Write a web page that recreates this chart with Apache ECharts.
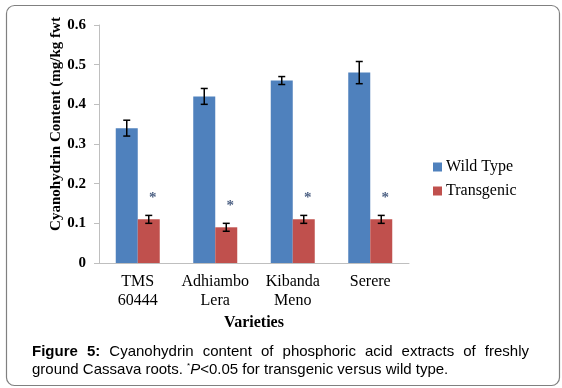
<!DOCTYPE html>
<html>
<head>
<meta charset="utf-8">
<script src="https://cdn.jsdelivr.net/npm/echarts@6/dist/echarts.min.js"></script>
<style>
  html, body { margin: 0; padding: 0; background: #fff; }
  #chart { width: 562px; height: 388px; }
</style>
</head>
<body>
<div id="chart"></div>
<script>
var categories = ['TMS\n60444', 'Adhiambo\nLera', 'Kibanda\nMeno', 'Serere'];
var wildType = [0.34, 0.42, 0.46, 0.48];
var wildErr = [0.02, 0.02, 0.01, 0.028];
var transgenic = [0.11, 0.09, 0.11, 0.11];
var transErr = [0.01, 0.01, 0.01, 0.01];
// where the significance asterisks sit (value axis)
var starPos = [0.17, 0.15, 0.17, 0.17];
var yTitle = 'Cyanohydrin Content (mg/kg fwt';

var serif = 'Liberation Serif';
var sans = 'Liberation Sans';
var barW = 22;

var myChart = echarts.init(document.getElementById('chart'));

// justified first caption line: measure words and spread them
var ctx = document.createElement('canvas').getContext('2d');
var line1 = [['Figure', true], ['5:', true], ['Cyanohydrin'], ['content'], ['of'],
    ['phosphoric'], ['acid'], ['extracts'], ['of'], ['freshly']];
var capLeft = 32, capRight = 529, capSize = 15;
var widths = line1.map(function (w) {
    ctx.font = (w[1] ? 'bold ' : '') + capSize + 'px ' + sans;
    return ctx.measureText(w[0]).width;
});
var sum = widths.reduce(function (a, b) { return a + b; }, 0);
var gap = (capRight - capLeft - sum) / (line1.length - 1);
var captionEls = [];
var cx = capLeft;
line1.forEach(function (w, i) {
    captionEls.push({
        type: 'text', left: cx, top: 344,
        style: {
            text: w[0], font: (w[1] ? 'bold ' : '') + capSize + 'px ' + sans,
            fill: '#000'
        }
    });
    cx += widths[i] + gap;
});
captionEls.push({
    type: 'text', left: capLeft, top: 362,
    style: {
        text: '{n|ground Cassava roots. }{s|*}{i|P}{n|<0.05 for transgenic versus wild type.}',
        rich: {
            n: { fontFamily: sans, fontSize: capSize, fill: '#000' },
            s: { fontFamily: sans, fontSize: 8, fill: '#000', verticalAlign: 'top', padding: [0, 0, 6, 0] },
            i: { fontFamily: sans, fontSize: capSize, fontStyle: 'italic', fill: '#000' }
        }
    }
});

function errorBar(offset) {
    return function (params, api) {
        var c = api.coord([api.value(0), api.value(1)]);
        var hi = api.coord([api.value(0), api.value(1) + api.value(2)]);
        var lo = api.coord([api.value(0), api.value(1) - api.value(2)]);
        var x = c[0] + offset;
        var st = { stroke: '#000', lineWidth: 1.5 };
        return {
            type: 'group',
            children: [
                { type: 'line', shape: { x1: x, y1: hi[1], x2: x, y2: lo[1] }, style: st },
                { type: 'line', shape: { x1: x - 3.5, y1: hi[1], x2: x + 3.5, y2: hi[1] }, style: st },
                { type: 'line', shape: { x1: x - 3.5, y1: lo[1], x2: x + 3.5, y2: lo[1] }, style: st }
            ]
        };
    };
}

var option = {
    animation: false,
    graphic: [{
        type: 'rect', left: 4, top: 3, z: -10,
        shape: { width: 553, height: 380, r: 8 },
        style: { fill: 'none', stroke: '#808080', lineWidth: 1.2 }
    }, {
        type: 'text', x: 56, y: 124, rotation: Math.PI / 2,
        style: {
            text: yTitle, fontFamily: serif, fontSize: 15, fontWeight: 'bold',
            fill: '#000', align: 'center', verticalAlign: 'middle'
        }
    }].concat(captionEls),
    grid: { left: 99, right: 153, top: 25, bottom: 125 },
    legend: {
        orient: 'vertical',
        left: 428, top: 154,
        itemWidth: 9, itemHeight: 9, itemGap: 8,
        icon: 'rect',
        textStyle: { fontFamily: serif, fontSize: 16, color: '#000', padding: [0, 0, 0, -1] },
        data: ['Wild Type', 'Transgenic']
    },
    xAxis: {
        type: 'category',
        data: categories,
        name: 'Varieties',
        nameLocation: 'middle',
        nameGap: 52,
        nameTextStyle: { fontFamily: serif, fontSize: 16, fontWeight: 'bold', color: '#000' },
        axisLine: { lineStyle: { color: '#BFBFBF', width: 1 } },
        axisTick: { length: 5, lineStyle: { color: '#BFBFBF' } },
        axisLabel: { interval: 0, fontFamily: serif, fontSize: 16, color: '#000', lineHeight: 19, margin: 9 }
    },
    yAxis: {
        type: 'value',
        min: 0, max: 0.6, interval: 0.1,
        axisLine: { show: true, lineStyle: { color: '#BFBFBF', width: 1 } },
        axisTick: { show: true, length: 5, lineStyle: { color: '#BFBFBF' } },
        splitLine: { show: false },
        axisLabel: { fontFamily: serif, fontSize: 15, fontWeight: 'bold', color: '#000', margin: 13 }
    },
    series: [
        {
            name: 'Wild Type', type: 'bar', data: wildType,
            barWidth: barW, barGap: '0%',
            itemStyle: { color: '#4F81BD' }
        },
        {
            name: 'Transgenic', type: 'bar', data: transgenic,
            barWidth: barW, barGap: '0%',
            itemStyle: { color: '#C0504D' }
        },
        {
            type: 'custom', renderItem: errorBar(-barW / 2), z: 5,
            data: wildType.map(function (v, i) { return [i, v, wildErr[i]]; })
        },
        {
            type: 'custom', renderItem: errorBar(barW / 2), z: 5,
            data: transgenic.map(function (v, i) { return [i, v, transErr[i]]; })
        },
        {
            type: 'scatter', symbolSize: 0, z: 6,
            data: starPos.map(function (v, i) { return [i, v]; }),
            label: {
                show: true, position: 'inside', formatter: '*',
                offset: [15, 3],
                fontFamily: serif, fontSize: 15, fontWeight: 'bold', color: '#1F3864'
            }
        }
    ]
};

myChart.setOption(option);
</script>
</body>
</html>
